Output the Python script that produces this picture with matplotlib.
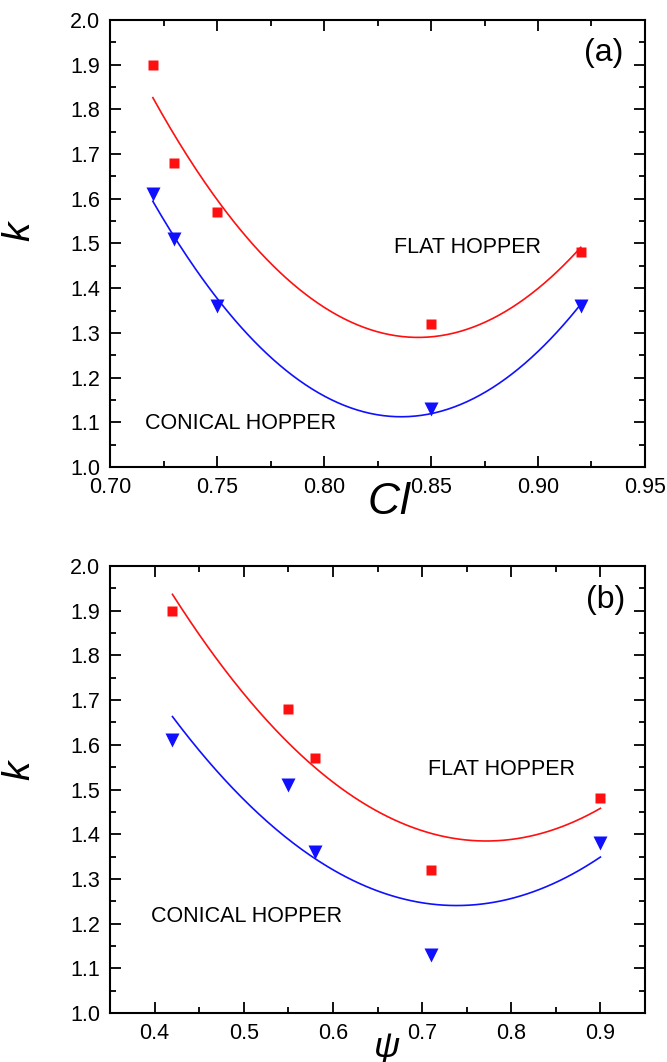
import numpy as np
import matplotlib
matplotlib.use("Agg")
import matplotlib.pyplot as plt
from matplotlib.ticker import MultipleLocator, FormatStrFormatter

plt.rcParams['font.family'] = ['Liberation Sans', 'DejaVu Sans']
plt.rcParams['mathtext.fontset'] = 'custom'
plt.rcParams['mathtext.it'] = 'Liberation Sans:italic'

# data
ci = [0.72, 0.73, 0.75, 0.85, 0.92]
psi = [0.42, 0.55, 0.58, 0.71, 0.90]
k_flat = [1.90, 1.68, 1.57, 1.32, 1.48]
k_conical_a = [1.61, 1.51, 1.36, 1.13, 1.36]
k_conical_b = [1.61, 1.51, 1.36, 1.13, 1.38]

fig = plt.figure(figsize=(6.67, 10.62), dpi=100)
ax1 = fig.add_axes([0.165, 0.5603, 0.802, 0.4209])
ax2 = fig.add_axes([0.165, 0.0461, 0.802, 0.4209])


def style(ax, xlim, xmaj, xmin):
    ax.set_xlim(*xlim)
    ax.set_ylim(1.0, 2.0)
    ax.xaxis.set_major_locator(MultipleLocator(xmaj))
    ax.xaxis.set_minor_locator(MultipleLocator(xmin))
    ax.yaxis.set_major_locator(MultipleLocator(0.1))
    ax.yaxis.set_minor_locator(MultipleLocator(0.05))
    ax.yaxis.set_major_formatter(FormatStrFormatter('%.1f'))
    ax.tick_params(which='both', direction='in', top=True, right=True,
                   width=1.3, labelsize=15.5)
    ax.tick_params(which='major', length=8)
    ax.tick_params(which='minor', length=4)
    ax.tick_params(axis='y', pad=7)
    ax.tick_params(axis='x', pad=7)
    for s in ax.spines.values():
        s.set_linewidth(1.5)


def panel(ax, x, flat, con):
    # second-order polynomial fits, as in the original
    xx = np.linspace(min(x), max(x), 200)
    pf = np.polyfit(x, flat, 2)
    pc = np.polyfit(x, con, 2)
    ax.plot(xx, np.polyval(pf, xx), color='#ff1010', lw=1.2)
    ax.plot(xx, np.polyval(pc, xx), color='#1010ff', lw=1.2)
    ax.plot(x, flat, 's', color='#ff1010', ms=7.5, mec='none')
    ax.plot(x, con, 'v', color='#1010ff', ms=10, mec='none')


# (a)
panel(ax1, ci, k_flat, k_conical_a)
style(ax1, (0.70, 0.95), 0.05, 0.025)
ax1.xaxis.set_major_formatter(FormatStrFormatter('%.2f'))
ax1.text(0.531, 0.49, 'FLAT HOPPER', fontsize=15.5, ha='left', va='center',
         transform=ax1.transAxes)
ax1.text(0.0655, 0.098, 'CONICAL HOPPER', fontsize=15.5, ha='left', va='center',
         transform=ax1.transAxes)
ax1.text(0.959, 0.925, '(a)', fontsize=23, ha='right', va='center',
         transform=ax1.transAxes)
ax1.set_ylabel('$k$', fontsize=28)
ax1.yaxis.set_label_coords(-0.134, 0.53)
fig.text(390 / 667, 1 - 502 / 1062, '$Cl$', fontsize=32, ha='center', va='center')

# (b)
panel(ax2, psi, k_flat, k_conical_b)
style(ax2, (0.35, 0.95), 0.1, 0.05)
ax2.text(0.595, 0.545, 'FLAT HOPPER', fontsize=15.5, ha='left', va='center',
         transform=ax2.transAxes)
ax2.text(0.077, 0.215, 'CONICAL HOPPER', fontsize=15.5, ha='left', va='center',
         transform=ax2.transAxes)
ax2.text(0.963, 0.925, '(b)', fontsize=23, ha='right', va='center',
         transform=ax2.transAxes)
ax2.set_ylabel('$k$', fontsize=28)
ax2.yaxis.set_label_coords(-0.134, 0.544)
fig.text(387 / 667, -0.004, '$\\psi$', fontsize=26, ha='center', va='bottom')

fig.savefig('out.png', dpi=100)
